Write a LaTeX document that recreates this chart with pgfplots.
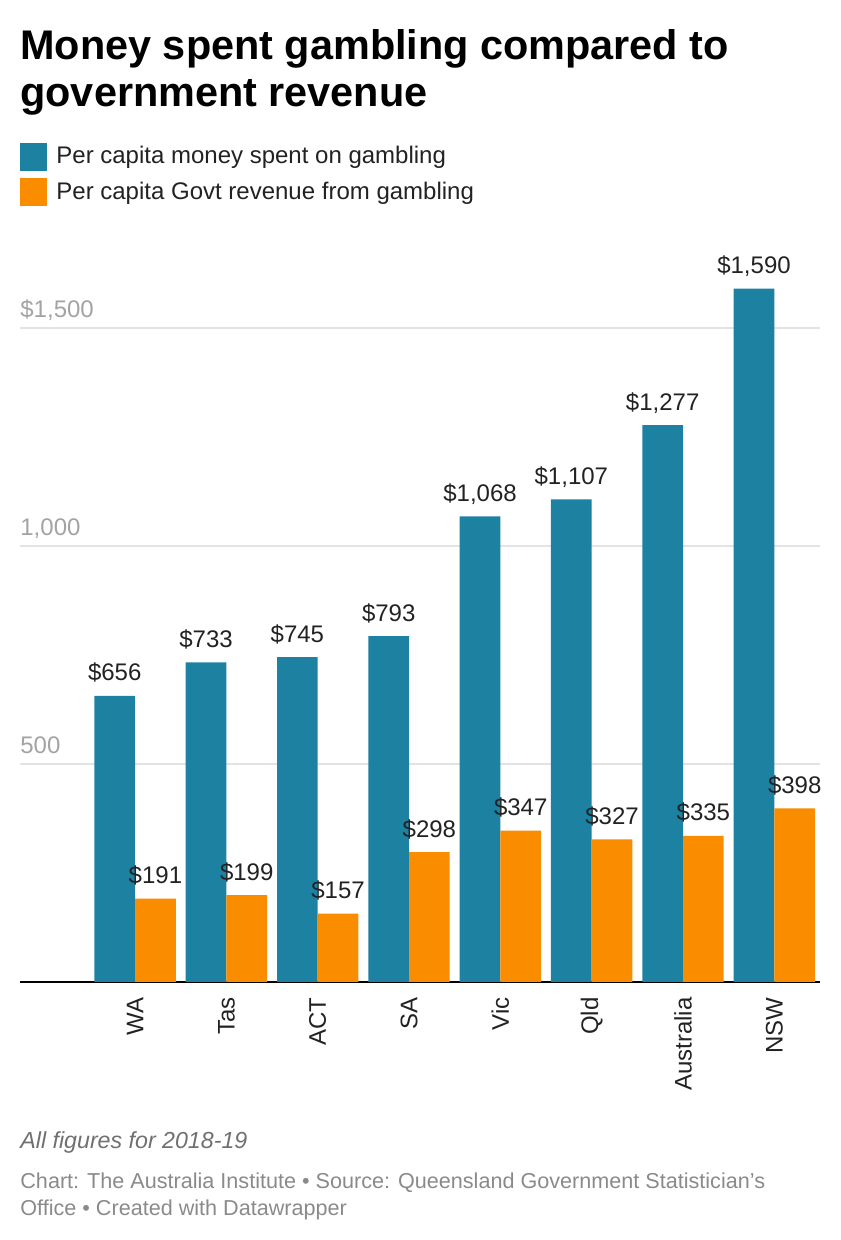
\documentclass[border=0pt]{standalone}
\usepackage{fontspec}
\setmainfont{Liberation Sans}
\usepackage{pgfplots}
\pgfplotsset{compat=1.18}
\definecolor{cblue}{HTML}{1D81A2}
\definecolor{corange}{HTML}{FA8C00}
\definecolor{tickgray}{HTML}{A3A3A3}
\definecolor{gridgray}{HTML}{E3E3E3}
\definecolor{footgray}{HTML}{8A8A8A}
\definecolor{notegray}{HTML}{707070}
\definecolor{txt}{HTML}{222222}
\begin{document}
\begin{tikzpicture}
\path[use as bounding box] (0pt,0pt) rectangle (420pt,620pt);
\node[anchor=base west, inner sep=0pt, font=\bfseries\fontsize{20.7pt}{24pt}\selectfont] at (10pt,590pt) {Money spent gambling compared to};
\node[anchor=base west, inner sep=0pt, font=\bfseries\fontsize{20.7pt}{24pt}\selectfont] at (10pt,566.5pt) {government revenue};
\begin{axis}[
  at={(10pt,129pt)}, anchor=south west,
  scale only axis, width=400pt, height=370.6pt,
  xmin=-1.26, xmax=7.5, ymin=0, ymax=1700,
  clip=false,
  ybar=0pt, bar width=20.35pt,
  separate axis lines,
  axis x line*=bottom, axis y line*=left,
  x axis line style={black, line width=1pt, -},
  y axis line style={draw=none},
  major tick length=0pt,
  xtick={0,...,7},
  xticklabels={WA,Tas,ACT,SA,Vic,Qld,Australia,NSW},
  xticklabel style={rotate=90, anchor=east, inner sep=0pt, font=\fontsize{12pt}{14pt}\selectfont, text=txt},
  xticklabel shift=7.5pt,
  ytick={500,1000,1500},
  yticklabels={500,{1,000},{\$1,500}},
  yticklabel style={anchor=base west, inner sep=0pt, yshift=5pt, font=\fontsize{12pt}{14pt}\selectfont, text=tickgray},
  yticklabel shift=0pt,
  ymajorgrids, grid style={gridgray, line width=1pt},
  /pgf/number format/assume math mode=true,
  /pgf/number format/1000 sep={,},
  nodes near coords={\$\pgfmathprintnumber{\pgfplotspointmeta}},
  nodes near coords style={anchor=base, inner sep=0pt, yshift=7.5pt, font=\fontsize{12pt}{14pt}\selectfont, text=txt},
  legend style={at={(axis description cs:0,1.1333)}, anchor=north west, draw=none, fill=none, inner sep=0pt, row sep=3.5pt, column sep=2.5pt, font=\fontsize{12pt}{14pt}\selectfont, text=txt},
  legend cell align=left,
  legend image code/.code={\fill[#1] (0pt,-7pt) rectangle (13.5pt,7pt);},
]
\addplot[fill=cblue, draw=none] coordinates {(0,656) (1,733) (2,745) (3,793) (4,1068) (5,1107) (6,1277) (7,1590)};
\addplot[fill=corange, draw=none] coordinates {(0,191) (1,199) (2,157) (3,298) (4,347) (5,327) (6,335) (7,398)};
\legend{Per capita money spent on gambling, Per capita Govt revenue from gambling}
\end{axis}
\node[anchor=base west, inner sep=0pt, font=\itshape\fontsize{11.6pt}{13pt}\selectfont, text=notegray] at (10pt,45.5pt) {All figures for 2018-19};
\node[anchor=base west, inner sep=0pt, font=\fontsize{10.8pt}{12pt}\selectfont, text=footgray] at (10pt,25.5pt) {Chart: The Australia Institute \textbullet{} Source: Queensland Government Statistician's};
\node[anchor=base west, inner sep=0pt, font=\fontsize{10.8pt}{12pt}\selectfont, text=footgray] at (10pt,12.5pt) {Office \textbullet{} Created with Datawrapper};
\end{tikzpicture}
\end{document}
